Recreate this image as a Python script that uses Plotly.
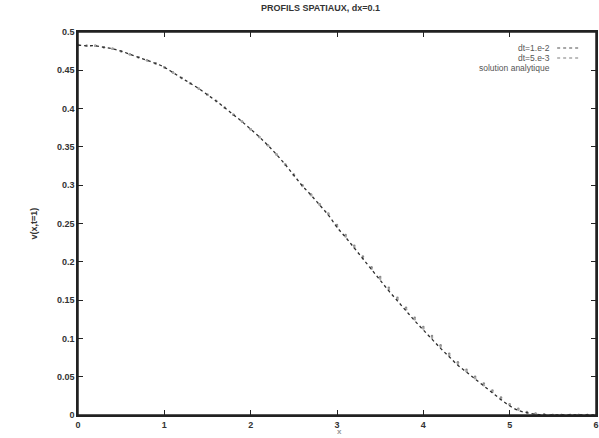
"""
Profils spatiaux v(x, t=1), dx=0.1 : schémas numériques vs solution analytique
"""

import plotly.graph_objects as go

# abscisses (pas dx = 0.1)
x = [round(0.1 * i, 1) for i in range(61)]

# solution analytique
v_exact = [
    0.483, 0.482, 0.482, 0.480, 0.478, 0.475, 0.471, 0.467, 0.463, 0.459,
    0.454, 0.447, 0.440, 0.433, 0.426, 0.418, 0.410, 0.401, 0.392, 0.383,
    0.373, 0.363, 0.352, 0.340, 0.327, 0.313, 0.299, 0.287, 0.274, 0.261,
    0.245, 0.232, 0.218, 0.204, 0.190, 0.176, 0.162, 0.149, 0.136, 0.123,
    0.111, 0.099, 0.087, 0.076, 0.065, 0.056, 0.047, 0.038, 0.029, 0.020,
    0.012, 0.006, 0.003, 0.001, 0.000, 0.000, 0.000, 0.000, 0.000, 0.000,
    0.000,
]

# dt = 1.e-2
v_dt1 = [
    0.483, 0.482, 0.482, 0.480, 0.478, 0.475, 0.471, 0.467, 0.463, 0.459,
    0.454, 0.447, 0.440, 0.433, 0.426, 0.418, 0.410, 0.401, 0.392, 0.383,
    0.373, 0.363, 0.352, 0.340, 0.327, 0.314, 0.300, 0.288, 0.275, 0.263,
    0.248, 0.235, 0.221, 0.207, 0.193, 0.180, 0.166, 0.153, 0.140, 0.127,
    0.115, 0.103, 0.091, 0.080, 0.069, 0.059, 0.050, 0.041, 0.032, 0.023,
    0.014, 0.008, 0.004, 0.002, 0.001, 0.000, 0.000, 0.000, 0.000, 0.000,
    0.000,
]

# dt = 5.e-3
v_dt2 = [
    0.483, 0.482, 0.482, 0.480, 0.478, 0.475, 0.471, 0.467, 0.463, 0.459,
    0.454, 0.447, 0.440, 0.433, 0.426, 0.418, 0.410, 0.401, 0.392, 0.383,
    0.373, 0.363, 0.352, 0.340, 0.327, 0.313, 0.299, 0.287, 0.274, 0.262,
    0.246, 0.233, 0.219, 0.205, 0.191, 0.178, 0.164, 0.151, 0.138, 0.125,
    0.113, 0.101, 0.089, 0.078, 0.067, 0.057, 0.048, 0.039, 0.030, 0.021,
    0.013, 0.007, 0.003, 0.001, 0.000, 0.000, 0.000, 0.000, 0.000, 0.000,
    0.000,
]

names = ["dt=1.e-2", "dt=5.e-3", "solution analytique"]
colors = ["#8a8a8a", "#a8a8a8", "#2e2e2e"]

x_ticks = [0, 1, 2, 3, 4, 5, 6]
y_ticks = [0, 0.05, 0.1, 0.15, 0.2, 0.25, 0.3, 0.35, 0.4, 0.45, 0.5]
y_labels = ["0", "0.05", "0.1", "0.15", "0.2", "0.25", "0.3", "0.35", "0.4", "0.45", "0.5"]

font = "Liberation Sans, Arial, sans-serif"

fig = go.Figure()

fig.add_trace(go.Scatter(x=x, y=v_dt1, mode="markers", name=names[0],
                         marker=dict(size=2.5, color=colors[0])))
fig.add_trace(go.Scatter(x=x, y=v_dt2, mode="markers", name=names[1],
                         marker=dict(size=2.5, color=colors[1])))
fig.add_trace(go.Scatter(x=x, y=v_exact, mode="lines", name=names[2],
                         line=dict(color=colors[2], width=1.3, dash="dot",
                                   shape="spline")))

# legende facon gnuplot : texte aligne a droite, echantillon a droite
legend_y = [0.958, 0.932, 0.906]
for name, col, yy in zip(names, colors, legend_y):
    fig.add_annotation(x=0.915, y=yy, xref="paper", yref="paper", text=name,
                       showarrow=False, xanchor="right", yanchor="middle",
                       font=dict(family=font, size=8.5, color="#555"))
    if name != names[2]:
        fig.add_shape(type="line", xref="paper", yref="paper",
                      x0=0.925, x1=0.97, y0=yy, y1=yy,
                      line=dict(color=col, width=1.5, dash="dot"))

# cadre complet (style gnuplot)
fig.add_shape(type="rect", xref="paper", yref="paper", x0=0, x1=1, y0=0, y1=1,
              line=dict(color="#222", width=1.5), layer="above")

# titre de l'axe x, sous les graduations
fig.add_annotation(x=0.505, y=-0.027, xref="paper", yref="paper", text="x",
                   showarrow=False, xanchor="center", yanchor="top",
                   font=dict(family=font, size=8, color="#999", weight="bold"))

fig.update_layout(
    width=599,
    height=438,
    margin=dict(l=78, r=3, t=32, b=23),
    paper_bgcolor="white",
    plot_bgcolor="white",
    showlegend=False,
    title=dict(text="PROFILS SPATIAUX, dx=0.1", x=0.535, xanchor="center",
               y=0.99, yanchor="top",
               font=dict(family=font, size=9, color="#333", weight="bold")),
    font=dict(family=font, size=9, color="#333"),
)

fig.update_xaxes(
    range=[0, 6], tickvals=x_ticks, ticks="inside", ticklen=5,
    tickcolor="#222", showline=True, linecolor="#222", linewidth=1.5,
    mirror="allticks", showgrid=False, zeroline=False, automargin=False,
    tickfont=dict(family=font, size=9, color="#333", weight="bold"),
)
fig.update_yaxes(
    range=[0, 0.5], tickvals=y_ticks, ticktext=y_labels, ticks="inside",
    ticklen=5, tickcolor="#222", showline=True, linecolor="#222",
    linewidth=1.5, mirror="allticks", showgrid=False, zeroline=False,
    automargin=False,
    tickfont=dict(family=font, size=9, color="#333", weight="bold"),
    title=dict(text="v(x,t=1)", standoff=18,
               font=dict(family=font, size=9, color="#333", weight="bold")),
)

# pas de marge de page ni de barre d'outils : la figure occupe exactement la fenetre
fig.write_html("out.html",
               config={"displayModeBar": False},
               post_script="document.body.style.margin='0';"
                           "document.body.style.overflow='hidden';")
